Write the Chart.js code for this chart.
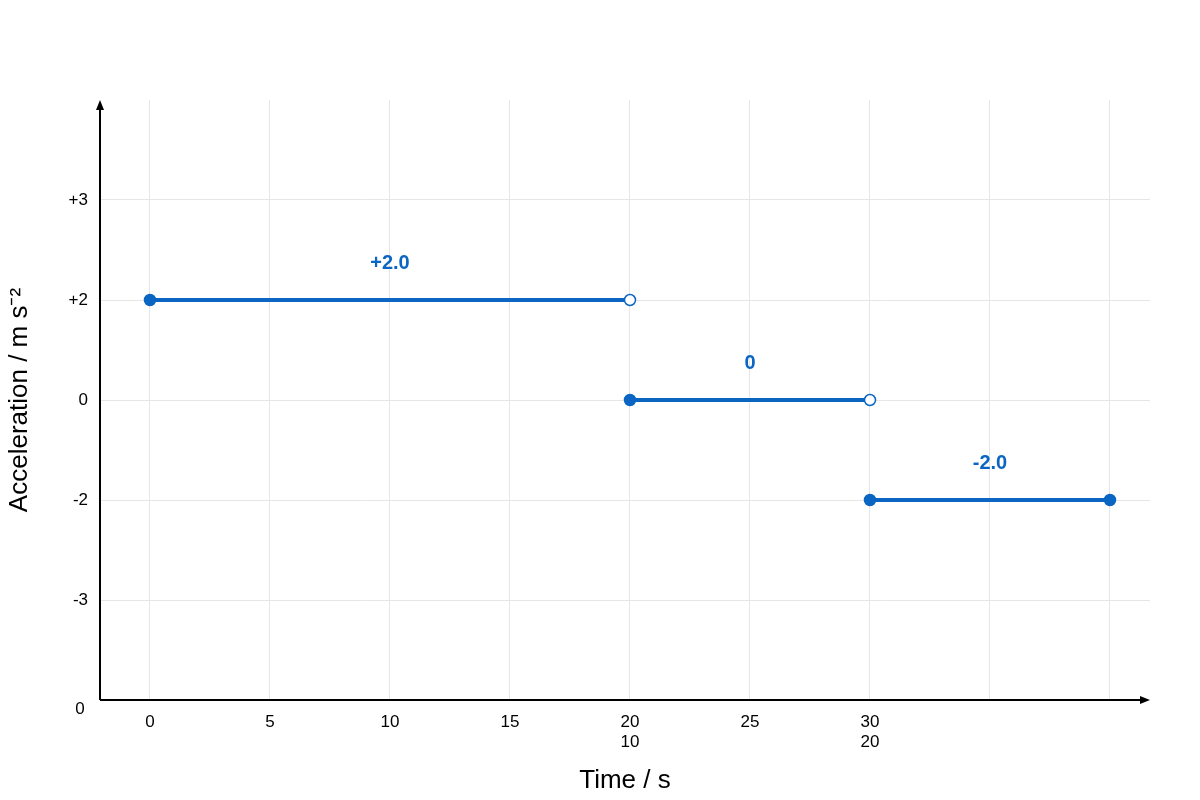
<!DOCTYPE html>
<html><head><meta charset="utf-8">
<script src="https://cdn.jsdelivr.net/npm/chart.js@4"></script>
<style>html,body{margin:0;background:#fff}#w{width:1200px;height:800px}</style>
</head><body><div id="w"><canvas id="c"></canvas></div>
<script>
const segStarts = [0, 20, 30];
const segEnds = [20, 30, 40];
const segAccel = [2, 0, -2];
const segLabels = ['+2.0', '0', '-2.0'];
const endOpen = [true, true, false];
const yLevels = [-3, -2, 0, 2, 3];
const yTickLabels = ['-3', '-2', '0', '+2', '+3'];
const xTickValues = [0, 5, 10, 15, 20, 25, 30, 35, 40];
const xTickLabels = {0:'0',5:'5',10:'10',15:'15',20:['20','10'],25:'25',30:['30','20']};
const blue = '#0a66c2';
const slot = v => yLevels.indexOf(v);

const datasets = segStarts.map((s, i) => ({
  data: [{x: s, y: slot(segAccel[i])}, {x: segEnds[i], y: slot(segAccel[i])}],
  borderColor: blue, borderWidth: 4,
  pointRadius: 5.5, pointBorderWidth: 1.5, pointBorderColor: blue,
  pointBackgroundColor: [blue, endOpen[i] ? '#fff' : blue]
}));

const deco = {
  id: 'deco',
  afterDatasetsDraw(ch) {
    const c = ch.ctx, x = ch.scales.x, y = ch.scales.y, a = ch.chartArea;
    c.save();
    c.fillStyle = blue; c.font = 'bold 20px "Liberation Sans", Arial'; c.textAlign = 'center'; c.textBaseline = 'middle';
    segStarts.forEach((s, i) => c.fillText(segLabels[i], x.getPixelForValue((s + segEnds[i]) / 2), y.getPixelForValue(slot(segAccel[i]) + 0.37)));
    c.strokeStyle = '#000'; c.fillStyle = '#000'; c.lineWidth = 2;
    c.beginPath(); c.moveTo(a.left, a.bottom); c.lineTo(a.right - 4, a.bottom); c.moveTo(a.left, a.bottom); c.lineTo(a.left, a.top + 4); c.stroke();
    c.beginPath(); c.moveTo(a.right, a.bottom); c.lineTo(a.right - 10, a.bottom - 4); c.lineTo(a.right - 10, a.bottom + 4); c.fill();
    c.beginPath(); c.moveTo(a.left, a.top); c.lineTo(a.left - 4, a.top + 10); c.lineTo(a.left + 4, a.top + 10); c.fill();
    c.font = '17px "Liberation Sans", Arial'; c.textAlign = 'center';
    c.fillText('0', 80, a.bottom + 9);
    c.restore();
  }
};

new Chart(document.getElementById('c'), {
  type: 'line',
  data: { datasets },
  options: {
    responsive: true, maintainAspectRatio: false, animation: false,
    layout: { padding: { top: 100, right: 50, left: 0, bottom: 0 } },
    plugins: { legend: { display: false }, tooltip: { enabled: false } },
    scales: {
      x: {
        type: 'linear', min: -2.083, max: 41.667,
        afterBuildTicks: s => { s.ticks = xTickValues.map(v => ({value: v})); },
        afterFit: s => { s.height = 100; },
        border: { display: false },
        grid: { color: '#e6e6e6', lineWidth: 1, drawTicks: false },
        ticks: { color: '#000', font: { size: 17, family: '"Liberation Sans", Arial' }, padding: 12, maxRotation: 0, autoSkip: false,
          callback: v => xTickLabels[v] ?? '' },
        title: { display: true, text: 'Time / s', color: '#000', font: { size: 26, family: '"Liberation Sans", Arial' }, padding: { top: -28 } }
      },
      y: {
        type: 'linear', min: -1, max: 5,
        afterBuildTicks: s => { s.ticks = yLevels.map((v, i) => ({value: i})); },
        afterFit: s => { s.width = 100; },
        border: { display: false },
        grid: { color: '#e6e6e6', lineWidth: 1, drawTicks: false },
        ticks: { color: '#000', font: { size: 17, family: '"Liberation Sans", Arial' }, padding: 12,
          callback: v => yTickLabels[v] ?? '' },
        title: { display: true, text: 'Acceleration / m s⁻²', color: '#000', font: { size: 26, family: '"Liberation Sans", Arial' }, padding: { bottom: 0 } }
      }
    }
  },
  plugins: [deco]
});
</script></body></html>
